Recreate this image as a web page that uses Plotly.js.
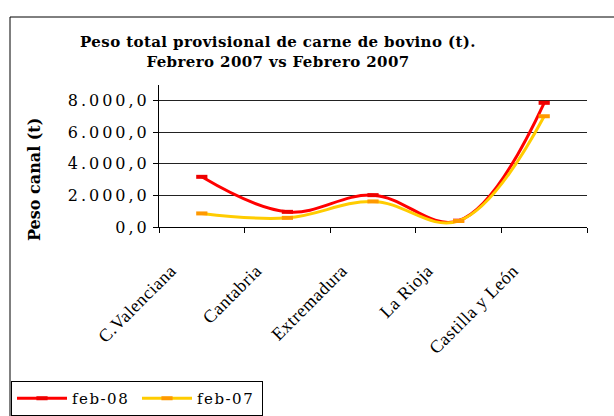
<!DOCTYPE html>
<html>
<head>
<meta charset="utf-8">
<script src="https://cdn.plot.ly/plotly-3.0.1.min.js"></script>
<style>
  html, body { margin: 0; padding: 0; background: #fff; }
  #chart { width: 614px; height: 416px; }
  .ytick text { letter-spacing: 3px; }
  .legendtext { letter-spacing: 1.5px; }
  .xtick text { letter-spacing: 0.5px; }
  .gtitle { letter-spacing: 0.4px; }
</style>
</head>
<body>
<div id="chart"></div>
<script>
const categories = ['C.Valenciana', 'Cantabria', 'Extremadura', 'La Rioja', 'Castilla y León'];
const feb08 = [3180, 960, 2020, 400, 7870];
const feb07 = [860, 580, 1620, 380, 7020];
const seriesNames = ['feb-08', 'feb-07'];
const yTickVals = [0, 2000, 4000, 6000, 8000];
const yTickText = ['0,0', '2.000,0', '4.000,0', '6.000,0', '8.000,0'];

const L = 159, R = 27, T = 85, B = 189, W = 614, H = 416;
const pw = W - L - R, ph = H - T - B;
const px = v => (v - L) / pw;
const py = v => (H - B - v) / ph;

const traces = [
  {
    x: categories, y: feb08, name: seriesNames[0], type: 'scatter', mode: 'lines+markers',
    line: { color: '#FF0000', width: 3, shape: 'spline', smoothing: 1.1 },
    marker: { symbol: 'line-ew', size: 8, color: '#FF0000', line: { color: '#EE0000', width: 4 } }
  },
  {
    x: categories, y: feb07, name: seriesNames[1], type: 'scatter', mode: 'lines+markers',
    line: { color: '#FFCC00', width: 3, shape: 'spline', smoothing: 1.1 },
    marker: { symbol: 'line-ew', size: 8, color: '#FF9900', line: { color: '#FF9900', width: 4 } }
  }
];

const layout = {
  width: W, height: H,
  margin: { l: L, r: R, t: T, b: B, autoexpand: false },
  paper_bgcolor: '#fff', plot_bgcolor: '#fff',
  showlegend: true,
  title: {
    text: 'Peso total provisional de carne de bovino (t).<br>Febrero 2007 vs Febrero 2007',
    font: { family: 'DejaVu Serif', size: 15, color: '#000', weight: 'bold' },
    x: 278 / W, xanchor: 'center', xref: 'container',
    y: 1 - 47 / H, yanchor: 'top', yref: 'container'
  },
  xaxis: {
    type: 'category', range: [-0.5, 4.5],
    showline: true, linecolor: '#000', linewidth: 1,
    ticks: 'outside', ticklen: 5, tickcolor: '#000', tickson: 'boundaries',
    showgrid: false, zeroline: false,
    tickangle: -45,
    tickfont: { family: 'Liberation Serif', size: 18, color: '#000' },
    ticklabelshift: -31, ticklabelstandoff: 25,
    fixedrange: true
  },
  yaxis: {
    range: [0, 9000],
    tickvals: yTickVals, ticktext: yTickText,
    showline: true, linecolor: '#000', linewidth: 1,
    ticks: 'outside', ticklen: 5, tickcolor: '#000',
    showgrid: true, gridcolor: '#222', gridwidth: 1,
    zeroline: false,
    tickfont: { family: 'DejaVu Serif', size: 16, color: '#000' },
    ticklabelstandoff: 0,
    fixedrange: true
  },
  legend: {
    orientation: 'h',
    xref: 'container', yref: 'container',
    x: 11 / W, y: 1 - 381 / H, xanchor: 'left', yanchor: 'top',
    bgcolor: '#fff', bordercolor: '#000', borderwidth: 1,
    font: { family: 'DejaVu Serif', size: 15, color: '#000' },
    itemwidth: 50, entrywidth: 60, entrywidthmode: 'pixels'
  },
  annotations: [
    {
      text: 'Peso canal (t)', xref: 'paper', yref: 'paper',
      x: px(34), y: py(180), xanchor: 'center', yanchor: 'middle',
      textangle: -90, showarrow: false,
      font: { family: 'DejaVu Serif', size: 16, color: '#000', weight: 'bold' }
    }
  ],
  shapes: [
    {
      type: 'rect', xref: 'paper', yref: 'paper', layer: 'below',
      x0: px(10), x1: px(640), y0: py(440), y1: py(17),
      line: { color: '#000', width: 1 }, fillcolor: 'rgba(0,0,0,0)'
    }
  ]
};

Plotly.newPlot('chart', traces, layout, { staticPlot: true, displayModeBar: false });
</script>
</body>
</html>
